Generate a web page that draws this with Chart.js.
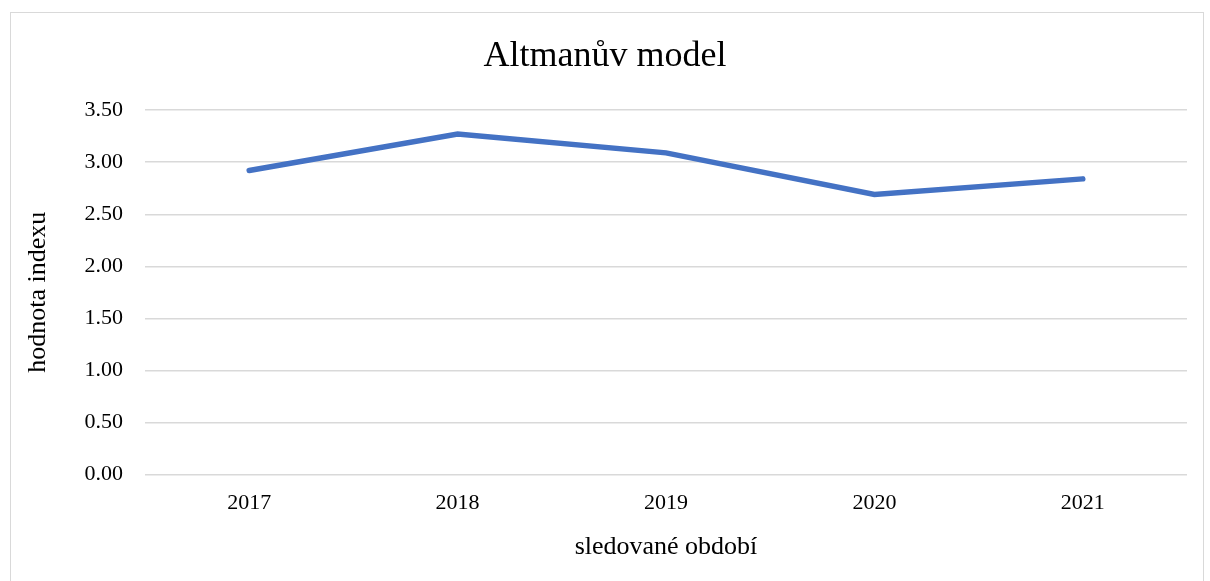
<!DOCTYPE html>
<html>
<head>
<meta charset="utf-8">
<script src="https://cdn.jsdelivr.net/npm/chart.js@4"></script>
<style>
  html, body { margin: 0; padding: 0; background: #fff; overflow: hidden; }
  #frame { position: absolute; left: 10px; top: 12px; width: 1194px; height: 590px; border: 1px solid #d9d9d9; box-sizing: border-box; }
  #box { position: absolute; left: 0; top: 0; width: 1192px; height: 568px; }
</style>
</head>
<body>
<div id="frame"><div id="box"><canvas id="myChart"></canvas></div></div>
<script>
const roky = ['2017', '2018', '2019', '2020', '2021'];
const hodnoty = [2.92, 3.27, 3.09, 2.69, 2.84];
const nazev = 'Altmanův model';
const osaY = 'hodnota indexu';
const osaX = 'sledované období';

const pismo = "'Liberation Serif', 'Times New Roman', serif";

const ctx = document.getElementById('myChart');

new Chart(ctx, {
  type: 'line',
  data: {
    labels: roky,
    datasets: [{
      label: nazev,
      data: hodnoty,
      borderColor: '#4472C4',
      borderWidth: 5.5,
      borderCapStyle: 'round',
      borderJoinStyle: 'miter',
      pointRadius: 0,
      tension: 0,
      fill: false
    }]
  },
  options: {
    responsive: true,
    maintainAspectRatio: false,
    animation: false,
    layout: { padding: { left: 12, right: 16, top: 0, bottom: 14 } },
    plugins: {
      legend: { display: false },
      tooltip: { enabled: false },
      title: {
        display: true,
        text: nazev,
        color: '#000',
        font: { family: pismo, size: 36, weight: 'normal' },
        padding: { top: 22, bottom: 32 }
      }
    },
    scales: {
      x: {
        offset: true,
        grid: { display: false },
        border: { display: false },
        ticks: { color: '#000', font: { family: pismo, size: 22 }, padding: 8 },
        title: {
          display: true,
          text: osaX,
          color: '#000',
          font: { family: pismo, size: 26 },
          padding: { top: 7, bottom: 4 }
        }
      },
      y: {
        min: 0,
        max: 3.5,
        afterFit: (s) => { s.width = 122; },
        grid: { color: '#d9d9d9', lineWidth: 1.5, drawTicks: false },
        border: { display: false },
        ticks: {
          stepSize: 0.5,
          color: '#000',
          font: { family: pismo, size: 22 },
          padding: 22,
          callback: (v) => v.toFixed(2)
        },
        title: {
          display: true,
          text: osaY,
          color: '#000',
          font: { family: pismo, size: 26 },
          padding: { top: 0, bottom: 0 }
        }
      }
    }
  }
});
</script>
</body>
</html>
